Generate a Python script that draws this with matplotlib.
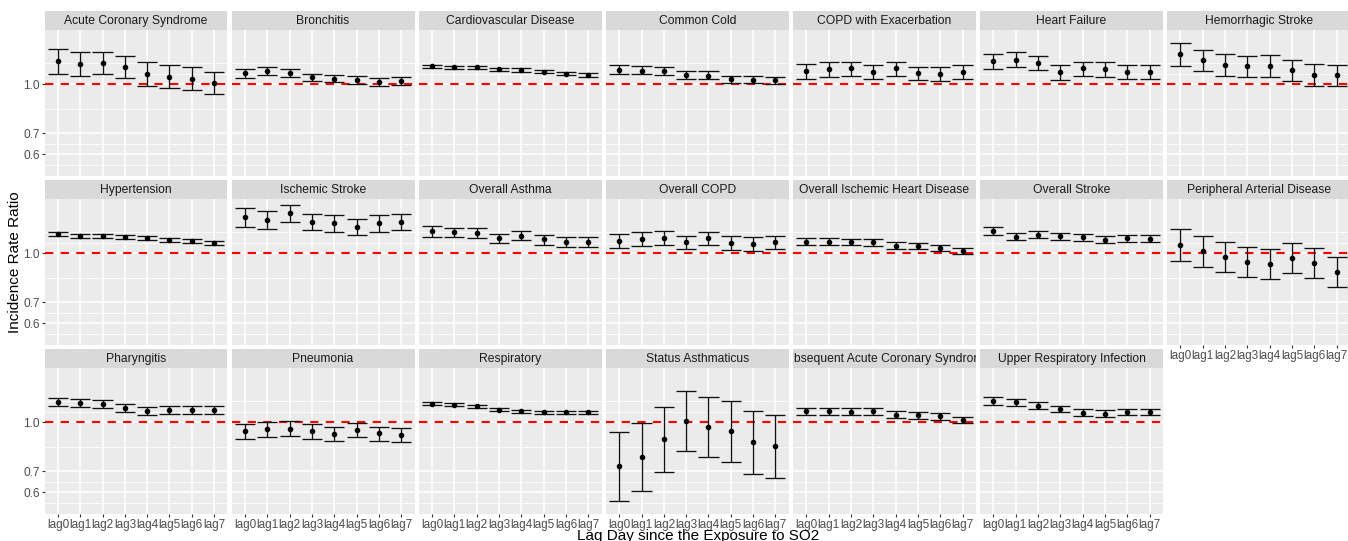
import matplotlib.pyplot as plt
from matplotlib.ticker import NullFormatter
import numpy as np

plt.rcParams['font.family'] = ['Liberation Sans', 'DejaVu Sans']

# === Data (incidence rate ratio with 95% CI) ===
lags = ["lag0", "lag1", "lag2", "lag3", "lag4", "lag5", "lag6", "lag7"]

diseases = [
    "Acute Coronary Syndrome", "Bronchitis", "Cardiovascular Disease", "Common Cold",
    "COPD with Exacerbation", "Heart Failure", "Hemorrhagic Stroke",
    "Hypertension", "Ischemic Stroke", "Overall Asthma", "Overall COPD",
    "Overall Ischemic Heart Disease", "Overall Stroke", "Peripheral Arterial Disease",
    "Pharyngitis", "Pneumonia", "Respiratory", "Status Asthmaticus",
    "Subsequent Acute Coronary Syndrome", "Upper Respiratory Infection",
]

irr = [
    [1.183, 1.164, 1.172, 1.134, 1.078, 1.058, 1.043, 1.009],
    [1.085, 1.105, 1.088, 1.052, 1.043, 1.036, 1.019, 1.028],
    [1.140, 1.132, 1.132, 1.118, 1.111, 1.098, 1.082, 1.070],
    [1.113, 1.105, 1.103, 1.070, 1.067, 1.038, 1.036, 1.031],
    [1.103, 1.116, 1.124, 1.093, 1.124, 1.085, 1.082, 1.095],
    [1.183, 1.199, 1.172, 1.093, 1.124, 1.116, 1.093, 1.098],
    [1.245, 1.194, 1.150, 1.140, 1.145, 1.108, 1.072, 1.070],
    [1.150, 1.137, 1.139, 1.129, 1.118, 1.105, 1.093, 1.080],
    [1.304, 1.277, 1.341, 1.259, 1.248, 1.216, 1.245, 1.257],
    [1.175, 1.166, 1.164, 1.118, 1.139, 1.108, 1.090, 1.088],
    [1.098, 1.111, 1.118, 1.088, 1.116, 1.077, 1.072, 1.085],
    [1.088, 1.090, 1.085, 1.085, 1.057, 1.055, 1.043, 1.016],
    [1.177, 1.131, 1.147, 1.134, 1.126, 1.105, 1.116, 1.113],
    [1.062, 1.014, 0.977, 0.941, 0.926, 0.970, 0.930, 0.875],
    [1.161, 1.153, 1.142, 1.111, 1.085, 1.093, 1.095, 1.095],
    [0.937, 0.952, 0.954, 0.937, 0.920, 0.946, 0.924, 0.915],
    [1.147, 1.137, 1.126, 1.098, 1.085, 1.077, 1.077, 1.077],
    [0.725, 0.777, 0.886, 1.012, 0.970, 0.939, 0.867, 0.844],
    [1.083, 1.085, 1.080, 1.083, 1.057, 1.055, 1.045, 1.016],
    [1.172, 1.158, 1.129, 1.100, 1.072, 1.067, 1.077, 1.080],
]

ci_low = [
    [1.080, 1.065, 1.080, 1.045, 0.991, 0.975, 0.961, 0.930],
    [1.050, 1.070, 1.055, 1.026, 1.014, 1.005, 0.991, 0.998],
    [1.127, 1.119, 1.119, 1.105, 1.098, 1.085, 1.069, 1.057],
    [1.082, 1.075, 1.072, 1.038, 1.038, 1.012, 1.007, 1.002],
    [1.043, 1.057, 1.065, 1.038, 1.065, 1.031, 1.028, 1.043],
    [1.116, 1.134, 1.113, 1.036, 1.063, 1.057, 1.038, 1.043],
    [1.145, 1.100, 1.060, 1.052, 1.055, 1.026, 0.988, 0.986],
    [1.134, 1.121, 1.123, 1.113, 1.103, 1.090, 1.078, 1.065],
    [1.216, 1.194, 1.262, 1.183, 1.172, 1.142, 1.169, 1.183],
    [1.131, 1.124, 1.121, 1.080, 1.100, 1.067, 1.050, 1.050],
    [1.043, 1.055, 1.062, 1.033, 1.060, 1.026, 1.019, 1.036],
    [1.060, 1.062, 1.060, 1.057, 1.033, 1.031, 1.016, 0.993],
    [1.145, 1.103, 1.118, 1.105, 1.098, 1.080, 1.088, 1.085],
    [0.947, 0.905, 0.873, 0.842, 0.828, 0.869, 0.834, 0.784],
    [1.129, 1.121, 1.111, 1.080, 1.057, 1.065, 1.065, 1.067],
    [0.886, 0.902, 0.904, 0.888, 0.872, 0.896, 0.875, 0.867],
    [1.133, 1.124, 1.113, 1.085, 1.072, 1.064, 1.064, 1.064],
    [0.562, 0.606, 0.698, 0.809, 0.776, 0.747, 0.686, 0.668],
    [1.055, 1.057, 1.055, 1.055, 1.033, 1.028, 1.019, 0.993],
    [1.139, 1.129, 1.103, 1.075, 1.048, 1.043, 1.053, 1.055],
]

ci_high = [
    [1.292, 1.266, 1.271, 1.231, 1.175, 1.153, 1.132, 1.098],
    [1.116, 1.137, 1.116, 1.082, 1.070, 1.063, 1.045, 1.055],
    [1.153, 1.145, 1.145, 1.131, 1.124, 1.111, 1.095, 1.083],
    [1.148, 1.140, 1.132, 1.100, 1.100, 1.067, 1.063, 1.057],
    [1.161, 1.175, 1.180, 1.148, 1.177, 1.137, 1.134, 1.150],
    [1.251, 1.268, 1.233, 1.148, 1.180, 1.175, 1.150, 1.153],
    [1.351, 1.289, 1.245, 1.233, 1.236, 1.194, 1.161, 1.150],
    [1.166, 1.153, 1.155, 1.145, 1.134, 1.120, 1.108, 1.095],
    [1.396, 1.363, 1.425, 1.338, 1.323, 1.289, 1.320, 1.332],
    [1.219, 1.208, 1.205, 1.155, 1.180, 1.145, 1.129, 1.126],
    [1.155, 1.172, 1.177, 1.139, 1.169, 1.134, 1.129, 1.139],
    [1.116, 1.116, 1.113, 1.113, 1.083, 1.077, 1.067, 1.040],
    [1.211, 1.161, 1.180, 1.164, 1.155, 1.134, 1.142, 1.142],
    [1.195, 1.134, 1.090, 1.050, 1.033, 1.077, 1.038, 0.975],
    [1.194, 1.185, 1.175, 1.142, 1.116, 1.124, 1.124, 1.126],
    [0.991, 1.005, 1.007, 0.988, 0.968, 0.995, 0.970, 0.961],
    [1.161, 1.151, 1.139, 1.111, 1.098, 1.090, 1.090, 1.090],
    [0.932, 0.993, 1.116, 1.260, 1.205, 1.169, 1.088, 1.057],
    [1.111, 1.113, 1.108, 1.108, 1.083, 1.080, 1.070, 1.043],
    [1.202, 1.188, 1.158, 1.129, 1.100, 1.093, 1.106, 1.106],
]

y_breaks = [0.6, 0.7, 1.0]
y_break_labels = ["0.6", "0.7", "1.0"]

# === Layout (pixels) ===
W, H = 1348, 541
n_col, n_row = 7, 3
left0, top0 = 44.5, 11
panel_w, col_step = 183, 187.1
strip_h, panel_h, row_step = 18.5, 146, 169

def px_rect(left, top, w, h):
    return [left / W, 1 - (top + h) / H, w / W, h / H]

# shared log y-limits with 5% expansion (like ggplot)
log_lo = np.log(np.min(ci_low))
log_hi = np.log(np.max(ci_high))
span = log_hi - log_lo
ylim = (np.exp(log_lo - 0.05 * span), np.exp(log_hi + 0.05 * span))

# minor grid: midpoints of breaks in log space, breaks extended by one step
lb = np.log(y_breaks)
step = lb[1] - lb[0]
ext = np.concatenate([[lb[0] - step], lb, [lb[-1] + step]])
minor = sorted(set(np.concatenate([(ext[:-1] + ext[1:]) / 2, [ext[0], ext[-1]]])))
minor = [np.exp(m) for m in minor]

x = np.arange(len(lags))
tick_col = "#4D4D4D"

fig = plt.figure(figsize=(W / 100, H / 100), dpi=100)

for i, name in enumerate(diseases):
    r, c = divmod(i, n_col)
    left = left0 + c * col_step
    top = top0 + r * row_step

    # strip (title clipped to its box like ggplot)
    sax = fig.add_axes(px_rect(left, top, panel_w, strip_h))
    sax.set_facecolor("#D9D9D9")
    sax.set_xticks([])
    sax.set_yticks([])
    for s in sax.spines.values():
        s.set_visible(False)
    t = sax.text(0.5, 0.47, name, transform=sax.transAxes, ha="center", va="center",
                 fontsize=8.7, color="#1A1A1A")
    t.set_clip_box(sax.bbox)
    t.set_clip_on(True)

    # panel
    ax = fig.add_axes(px_rect(left, top + strip_h, panel_w, panel_h))
    ax.set_facecolor("#EBEBEB")
    for s in ax.spines.values():
        s.set_visible(False)
    ax.set_yscale("log")
    ax.set_ylim(*ylim)
    ax.set_xlim(-0.6, len(lags) - 0.4)
    ax.set_yticks(y_breaks)
    ax.set_yticklabels(y_break_labels)
    ax.set_yticks(minor, minor=True)
    ax.yaxis.set_minor_formatter(NullFormatter())
    ax.set_xticks(x)
    ax.set_xticklabels(lags)
    ax.set_axisbelow(True)
    ax.grid(which="major", color="white", lw=1.1)
    ax.grid(which="minor", axis="y", color="white", lw=0.55)
    ax.tick_params(which="minor", length=0)

    show_y = c == 0
    show_x = (r == n_row - 1) or (i + n_col >= len(diseases))
    ax.tick_params(axis="y", which="major", length=2.5 if show_y else 0, width=0.8,
                   color="#333333", labelleft=show_y, labelsize=8.6,
                   labelcolor=tick_col, pad=1.0)
    ax.tick_params(axis="x", which="major", length=2.5 if show_x else 0, width=0.8,
                   color="#333333", labelbottom=show_x, labelsize=8.5,
                   labelcolor=tick_col, pad=1.5)

    ax.axhline(1.0, color="red", lw=1.5, ls=(0, (4, 3.5)), zorder=2)

    est = np.array(irr[i])
    lo = np.array(ci_low[i])
    hi = np.array(ci_high[i])
    ax.vlines(x, lo, hi, color="#111111", lw=0.95, zorder=3)
    ax.hlines(lo, x - 0.45, x + 0.45, color="#111111", lw=0.95, zorder=3)
    ax.hlines(hi, x - 0.45, x + 0.45, color="#111111", lw=0.95, zorder=3)
    ax.plot(x, est, "o", color="black", ms=3.0, zorder=4)

fig.text(15.5 / W, 1 - 262 / H, "Incidence Rate Ratio", rotation=90,
         ha="center", va="center", fontsize=11)
fig.text(698 / W, 1 - 540 / H, "Lag Day since the Exposure to SO2",
         ha="center", va="baseline", fontsize=11)

fig.savefig("out.png", dpi=100)
